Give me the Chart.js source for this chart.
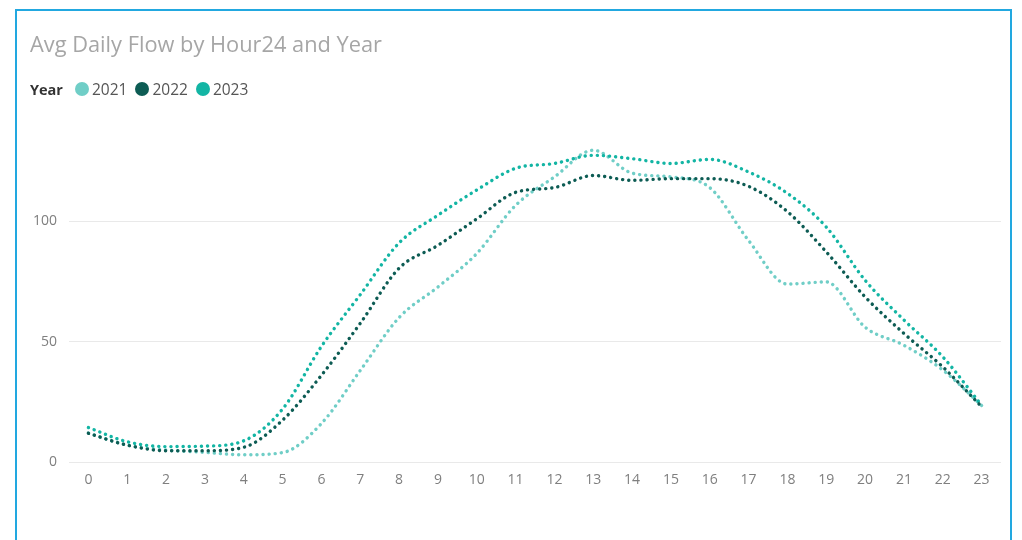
<!DOCTYPE html>
<html>
<head>
<meta charset="utf-8">
<script src="https://cdn.jsdelivr.net/npm/chart.js@4"></script>
<style>
  html, body { margin: 0; padding: 0; background: #fff; }
  body { width: 1022px; height: 540px; position: relative; overflow: hidden; font-family: "Open Sans", "Noto Sans", sans-serif; }
  #frame { position: absolute; left: 15px; top: 9px; width: 997px; height: 560px; border: 2px solid #22A8E0; box-sizing: border-box; }
  #title { position: absolute; left: 30px; top: 29px; font-size: 21.8px; color: #A6A6A6; white-space: nowrap; }
  #legend { position: absolute; left: 30px; top: 78px; font-size: 15.5px; color: #555; display: flex; align-items: center; white-space: nowrap; }
  #legend b { color: #333; font-weight: 700; font-size: 14.5px; margin-right: 12px; }
  #legend .dot { display: inline-block; width: 14px; height: 14px; border-radius: 50%; margin-right: 3px; }
  #legend .item { display: flex; align-items: center; margin-right: 8px; }
  #wrap { position: absolute; left: 0; top: 0; width: 1022px; height: 540px; }
</style>
</head>
<body>
<div id="frame"></div>
<div id="wrap"><canvas id="c"></canvas></div>
<div id="title">Avg Daily Flow by Hour24 and Year</div>
<div id="legend"><b>Year</b></div>
<script>
  const hours = ['0','1','2','3','4','5','6','7','8','9','10','11','12','13','14','15','16','17','18','19','20','21','22','23'];
  const years = ['2021', '2022', '2023'];
  const colors = ['#70CEC7', '#0D5C54', '#13B5A4'];

  // Avg daily flow per hour
  const flow2021 = [12, 7, 5, 4, 3, 3.9, 16, 38, 60, 72.7, 86.6, 106.6, 118.4, 129.5, 120, 118.4, 114, 92, 73.9, 74.8, 56, 48.5, 38.2, 23.5];
  const flow2022 = [11.9, 7, 4.7, 4.7, 6.1, 17.4, 36, 57.6, 80.5, 90, 101, 112, 114, 119, 117, 117.7, 117.7, 114.5, 104, 87.3, 68.6, 53.4, 39.5, 23];
  const flow2023 = [14.3, 8.4, 6.4, 6.6, 8.8, 22, 48, 69.5, 91, 102.5, 113, 122, 124, 127.4, 126, 124, 125.7, 120.5, 111.6, 97.6, 75.5, 59, 43.7, 23.6];
  const series = [flow2021, flow2022, flow2023];

  const legend = document.getElementById('legend');
  years.forEach((y, i) => {
    const it = document.createElement('span');
    it.className = 'item';
    it.innerHTML = '<span class="dot" style="background:' + colors[i] + '"></span>' + y;
    legend.appendChild(it);
  });

  const datasets = years.map((y, i) => ({
    label: y,
    data: series[i],
    borderColor: colors[i],
    backgroundColor: colors[i],
    borderWidth: 3.4,
    borderDash: [0.1, 6],
    borderCapStyle: 'round',
    pointRadius: 0,
    fill: false,
    cubicInterpolationMode: 'monotone'
  }));
  // dark series drawn on top
  datasets[1].order = 0; datasets[0].order = 2; datasets[2].order = 1;

  const tickFont = { family: '"Open Sans", "Noto Sans", sans-serif', size: 14 };

  new Chart(document.getElementById('c').getContext('2d'), {
    type: 'line',
    data: { labels: hours, datasets },
    options: {
      responsive: true, maintainAspectRatio: false, animation: false,
      layout: { padding: { left: 0, right: 21, top: 137, bottom: 48 } },
      plugins: { legend: { display: false }, title: { display: false }, tooltip: { enabled: false } },
      scales: {
        x: {
          offset: true,
          grid: { display: false, drawTicks: false },
          border: { display: false },
          ticks: { color: '#7F7F7F', font: tickFont, padding: 10, maxRotation: 0, autoSkip: false },
          afterFit: (s) => { s.height = 30; }
        },
        y: {
          min: 0, max: 135,
          grid: { color: '#E9E9E9', lineWidth: 1, drawTicks: false },
          border: { display: false },
          ticks: { stepSize: 50, color: '#7F7F7F', font: tickFont, padding: 12 },
          afterBuildTicks: (s) => { s.ticks = s.ticks.filter(t => t.value % 50 === 0); },
          afterFit: (s) => { s.width = 69; }
        }
      }
    }
  });
</script>
</body>
</html>
